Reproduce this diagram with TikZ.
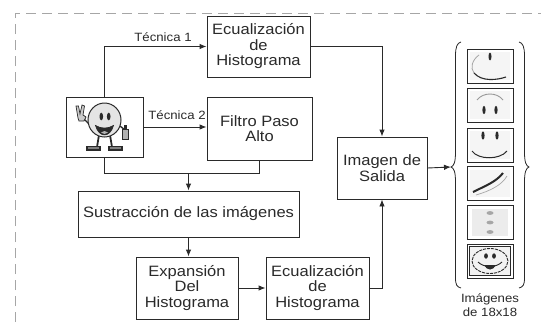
\documentclass[tikz,border=0pt]{standalone}
\usepackage{fontspec}
\setmainfont{Liberation Sans}[FakeStretch=1.1]
\usetikzlibrary{arrows.meta}
\definecolor{ink}{HTML}{2A2A2A}
\definecolor{face}{HTML}{E4E4E4}
\tikzset{
  blk/.style={draw=ink, line width=0.9pt, fill=white, align=center, inner sep=0pt,
    text=ink, font=\fontsize{15}{15.5}\selectfont},
  pic/.style={draw=ink, line width=0.9pt, fill=white, inner sep=0pt, minimum width=46pt, minimum height=34pt},
  conn/.style={draw=ink, line width=0.9pt},
  arr/.style={conn, -{Latex[length=7pt,width=5.5pt]}},
  lbl/.style={text=ink, font=\fontsize{12}{14}\selectfont, inner sep=0pt, align=center},
  frame/.style={draw=gray!70, line width=0.8pt, dash pattern=on 10pt off 6pt},
  brc/.style={draw=ink, line width=0.8pt},
}
\begin{document}
\begin{tikzpicture}[x=1pt,y=-1pt]
\useasboundingbox[fill=white] (0,0) rectangle (541,322);
% dashed frame
\draw[frame] (15,322) -- (15,13) -- (541,13);

% blocks
\node[blk, minimum width=77pt, minimum height=60pt] (img) at (104.5,127) {};
\node[blk, minimum width=103pt, minimum height=61pt] (eq1) at (258.5,46.5) {Ecualización\\de\\Histograma};
\node[blk, minimum width=105pt, minimum height=63pt] (filt) at (259.5,128.5) {Filtro Paso\\Alto};
\node[blk, minimum width=221pt, minimum height=46pt] (sus) at (188.5,214) {Sustracción de las imágenes};
\node[blk, minimum width=102pt, minimum height=62pt] (exp) at (187,288) {Expansión\\Del\\Histograma};
\node[blk, minimum width=103pt, minimum height=62pt] (eq2) at (317.5,288) {Ecualización\\de\\Histograma};
\node[blk, minimum width=90pt, minimum height=62pt] (sal) at (382,168) {Imagen de\\Salida};

% smiley cartoon inside img
\begin{scope}
  % legs
  \draw[ink, line width=1.8pt] (99,135) -- (97,147);
  \draw[ink, line width=1.8pt] (110,135) -- (112,147);
  \fill[ink] (86,146) rectangle (101,151);
  \fill[ink] (108,146) rectangle (123,151);
  \fill[gray] (88,147) rectangle (99,149);
  \fill[gray] (110,147) rectangle (121,149);
  % arms
  \draw[ink, line width=1.4pt] (89,124) -- (82,117);
  \draw[ink, line width=1.4pt] (120,126) -- (125,130);
  % hand (V sign)
  \filldraw[draw=ink, fill=gray!40, line width=0.7pt] (78,118) -- (76,106) -- (78.5,106) -- (80,114) -- (82,105) -- (84.5,106) -- (83,115) -- (86,117) -- (84,121) -- (79,121) -- cycle;
  % bottle
  \filldraw[draw=ink, fill=gray!60, line width=0.7pt] (122,129) rectangle (128.5,139);
  \fill[ink] (124,125) rectangle (126.5,129);
  % face
  \filldraw[draw=ink, fill=face, line width=1pt] (104.5,120) ellipse [x radius=16.5pt, y radius=17pt];
  % eyes
  \fill[ink] (101.3,116.5) ellipse [x radius=1.8pt, y radius=3.8pt];
  \fill[ink] (108.7,116.5) ellipse [x radius=1.8pt, y radius=3.8pt];
  % mouth
  \filldraw[draw=ink, fill=ink, line width=0.7pt] (95.5,125.5) .. controls (99,138) and (110,138) .. (113.5,125.5) .. controls (108,129) and (101,129) .. (95.5,125.5) -- cycle;
  \fill[gray!60] (101,132.5) .. controls (103,130.5) and (106,130.5) .. (108,132.5) .. controls (106,134.5) and (103,134.5) .. (101,132.5);
\end{scope}

% small images
\node[pic] (p1) at (490,66) {};
\node[pic] (p2) at (490,105) {};
\node[pic] (p3) at (490,145) {};
\node[pic] (p4) at (490,183.5) {};
\node[pic] (p5) at (490,222.5) {};
\node[pic] (p6) at (490,261) {};

% p1: left half face + one eye
\fill[gray!8] (470,52) rectangle (510,80);
\draw[gray!70, line width=0.8pt] (479,55) .. controls (472,60) and (470,68) .. (474,73);
\draw[ink, line width=1.1pt] (474,73) .. controls (482,82) and (497,80) .. (506,77);
\fill[ink] (490,56.5) ellipse [x radius=1.5pt, y radius=4pt];
% p2: top arc + two eyes
\fill[gray!8] (470,91) rectangle (510,119);
\draw[gray!80, line width=0.9pt] (477,100) .. controls (483,92) and (497,92) .. (503,100);
\fill[ink] (484,110) ellipse [x radius=1.6pt, y radius=4.2pt];
\fill[ink] (496,110) ellipse [x radius=1.6pt, y radius=4.2pt];
% p3: eyes + smile
\fill[gray!8] (470,131) rectangle (510,159);
\fill[ink] (483,135.5) ellipse [x radius=1.6pt, y radius=4.2pt];
\fill[ink] (497,135.5) ellipse [x radius=1.6pt, y radius=4.2pt];
\draw[ink, line width=1pt] (472,151) .. controls (478,160) and (500,160) .. (507,151);
% p4: arc
\fill[gray!8] (470,170) rectangle (510,197);
\draw[ink, line width=2pt] (473,192) .. controls (485,186) and (496,182) .. (503,173);
\draw[gray!70, line width=0.7pt] (476,195) .. controls (490,191) and (502,185) .. (507,176);
% p5: three ovals
\fill[gray!15] (472,209) rectangle (508,236);
\fill[gray!70] (490,213) ellipse [x radius=3.5pt, y radius=1.9pt];
\fill[gray!70] (490,222.5) ellipse [x radius=3.5pt, y radius=1.9pt];
\fill[gray!70] (490,232) ellipse [x radius=3.5pt, y radius=1.9pt];
% p6: full smiley
\draw[ink, line width=0.5pt] (469.5,246.5) rectangle (510.5,275.5);
\fill[gray!10] (470,247) rectangle (510,275);
\draw[ink, line width=0.9pt, dash pattern=on 3pt off 1pt] (490,261) ellipse [x radius=18pt, y radius=12.5pt];
\fill[ink] (486,256) ellipse [x radius=1.9pt, y radius=2.7pt];
\fill[ink] (494,256) ellipse [x radius=1.9pt, y radius=2.7pt];
\draw[ink, line width=0.9pt] (478,262) .. controls (484,268) and (496,268) .. (502,262);
\fill[ink] (484,265) .. controls (487,271) and (493,271) .. (496,265) -- cycle;

% braces
\coordinate (bl) at (451,167);
\draw[brc] (461,42) .. controls (457,43) and (455.5,47) .. (455.5,56) -- (455.5,152) .. controls (455.5,162) and (454,166) .. (bl)
  .. controls (454,168) and (455.5,172) .. (455.5,182) -- (455.5,278) .. controls (455.5,285) and (457,287) .. (461,288);
\draw[brc] (519,42) .. controls (523,43) and (524.5,47) .. (524.5,56) -- (524.5,152) .. controls (524.5,162) and (526,166) .. (529,167)
  .. controls (526,168) and (524.5,172) .. (524.5,182) -- (524.5,278) .. controls (524.5,285) and (523,287) .. (519,288);

\node[lbl] (lab) at (490,305) {Imágenes\\de 18x18};

% connectors
\draw[arr] (img.north) |- (eq1.west);
\node[lbl] (t1) at (163,37) {Técnica 1};
\draw[arr] (img.east) -- (img.east -| filt.west);
\node[lbl] (t2) at (177,115.5) {Técnica 2};
\coordinate (j) at (sus.north |- 0,173);
\draw[conn] (img.south) |- (j);
\draw[conn] (filt.south) |- (j);
\draw[arr] (j) -- (sus.north);
\draw[arr] (eq1.east) -| (sal.north);
\draw[arr] (sus.south) -- (exp.north -| sus.south);
\draw[arr] (exp.east) -- (eq2.west);
\draw[arr] (eq2.east) -| (sal.south);
\draw[arr] (sal.east) -- (bl);
\end{tikzpicture}
\end{document}
